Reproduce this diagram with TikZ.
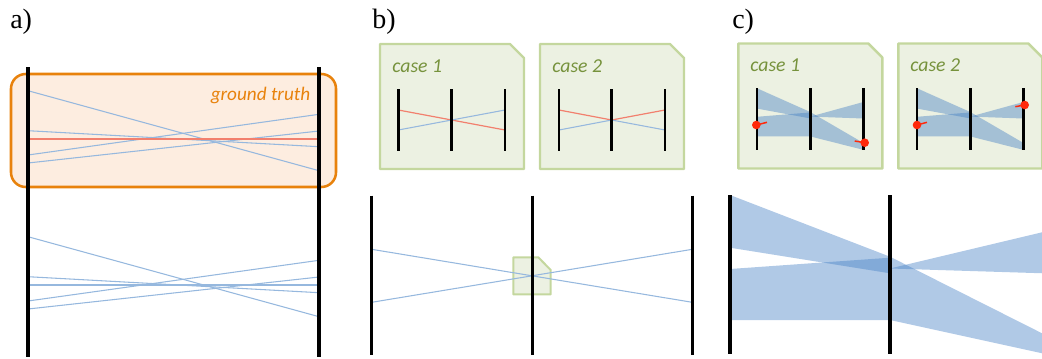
\documentclass[tikz,border=0pt]{standalone}
\usepackage{fontspec}
\setmainfont{Liberation Serif}
\newfontfamily\calib{Carlito}

\definecolor{gtorange}{RGB}{232,130,12}
\definecolor{gtfill}{RGB}{253,237,224}
\definecolor{trackblue}{RGB}{150,184,222}
\definecolor{trackred}{RGB}{242,128,110}
\definecolor{cardfill}{RGB}{236,241,226}
\definecolor{carddraw}{RGB}{196,215,158}
\definecolor{cardtext}{RGB}{118,146,60}
\definecolor{beam}{RGB}{66,126,196}
\definecolor{hitred}{RGB}{255,40,10}

\tikzset{
  rail/.style={line width=2.6pt},
  minirail/.style={line width=2.1pt},
  track/.style={trackblue, line width=0.8pt},
  truetrack/.style={trackred, line width=0.9pt},
  card/.style={fill=cardfill, draw=carddraw, line width=1.8pt, line join=round},
  cardlabel/.style={font=\calib\itshape\fontsize{14.8}{16}\selectfont, text=cardtext, anchor=west, inner sep=0pt},
  panellabel/.style={font=\fontsize{21}{23}\selectfont, anchor=base west, inner sep=0pt},
  beamfill/.style={fill=beam, fill opacity=0.42},
  hit/.style={fill=hitred, draw=none},
  hittick/.style={hitred, line width=1.1pt},
}

% card with a cut corner, top left at (#1,#2)
\newcommand{\casecard}[2]{%
  \draw[card] (#1,#2) -- ++(130,0) -- ++(14,14) -- ++(0,111) -- ++(-144,0) -- cycle;}

% uncertainty beams between three planes, local units
\newcommand{\beams}[1]{%
  \fill[beamfill] (0,0) -- (1,61.7) -- (1,78.3) -- (0,52.7) -- cycle;
  \fill[beamfill] (0,74) -- (1,62.7) -- (1,125) -- (0,125) -- cycle;
  \fill[beamfill] (1,73.5) -- (2,35.4) -- (2,78.5) -- cycle;
  \fill[beamfill] (1,61.7) -- (2,142.3) -- (2,160) -- (1,125) -- cycle;
  \foreach \p in {0,1,2}
    \draw[#1] (\p,0) -- (\p,159);}

\begin{document}
\begin{tikzpicture}[x=0.75pt, y=-0.75pt]
  \useasboundingbox (0,0) rectangle (1042,358);

  % a) ground truth and reconstruction
  \node[panellabel] (lbla) at (10,28.5) {a)};
  \draw[gtorange, fill=gtfill, line width=1.9pt, rounded corners=11pt] (11,74) rectangle (336,187);
  \node[font=\calib\itshape\fontsize{14.4}{16}\selectfont, text=gtorange, anchor=base east, inner sep=0pt] (gt) at (310.5,100) {ground truth};
  \foreach \l/\r in {90.7/170.7, 130.7/146.7, 155/114.3, 163/131}{
    \draw[track] (28,\l) -- (319,\r);
    \draw[track] (28,\l+146) -- (319,\r+146);
  }
  \draw[truetrack] (28,139) -- (319,139);
  \draw[track] (28,285) -- (319,285);
  \draw[rail] (28,67) -- (28,357);
  \draw[rail] (319,67) -- (319,357);

  % b) ambiguity at a shared hit
  \node[panellabel] (lblb) at (372,28.5) {b)};
  \casecard{380}{44}
  \casecard{540}{44}
  \node[cardlabel] (caseb1) at (392,66) {case 1};
  \node[cardlabel] (caseb2) at (552,66) {case 2};
  \draw[truetrack] (398.3,110) -- (505,130);
  \draw[track] (398.3,130) -- (505,110);
  \draw[truetrack] (559,110) -- (611.7,120) -- (665,110);
  \draw[track] (559,130) -- (611.7,120) -- (665,130);
  \foreach \x in {398.3,451.7,505,559,611.7,665}
    \draw[minirail] (\x,89.3) -- (\x,150.7);

  \draw[card, line width=1.5pt] (513.3,257.3) -- (538.3,257.3) -- (550.7,270) -- (550.7,294.3) -- (513.3,294.3) -- cycle;
  \draw[track] (371.7,249.3) -- (692.3,302.3);
  \draw[track] (371.7,302.3) -- (692.3,249.3);
  \foreach \x in {371.7,532.3,692.3}
    \draw[rail] (\x,195.7) -- (\x,355);

  % c) ambiguity with uncertainty beams
  \node[panellabel] (lblc) at (732,28.5) {c)};
  \casecard{738.3}{43.5}
  \casecard{898.3}{43.5}
  \node[cardlabel] (casec1) at (750,65) {case 1};
  \node[cardlabel] (casec2) at (910,65) {case 2};
  \begin{scope}[xshift=567.75pt, yshift=-66.2pt, x=40pt, y=-0.289pt]
    \beams{minirail}
  \end{scope}
  \begin{scope}[xshift=687.75pt, yshift=-66.2pt, x=40pt, y=-0.289pt]
    \beams{minirail}
  \end{scope}
  \draw[hittick] (756.3,125) -- (767,122.3);
  \fill[hit] (756.3,125) circle (4.3);
  \draw[hittick] (864.7,142.7) -- (854.7,141);
  \fill[hit] (864.7,142.7) circle (4.3);
  \draw[hittick] (917,125) -- (927,122.3);
  \fill[hit] (917,125) circle (4.3);
  \draw[hittick] (1024.7,105) -- (1015.3,106.7);
  \fill[hit] (1024.7,105) circle (4.3);

  \begin{scope}
    \clip (700,180) rectangle (1042,358);
    \begin{scope}[xshift=547.5pt, yshift=-146.25pt, x=120pt, y=-0.75pt]
      \beams{rail}
    \end{scope}
  \end{scope}
\end{tikzpicture}
\end{document}
